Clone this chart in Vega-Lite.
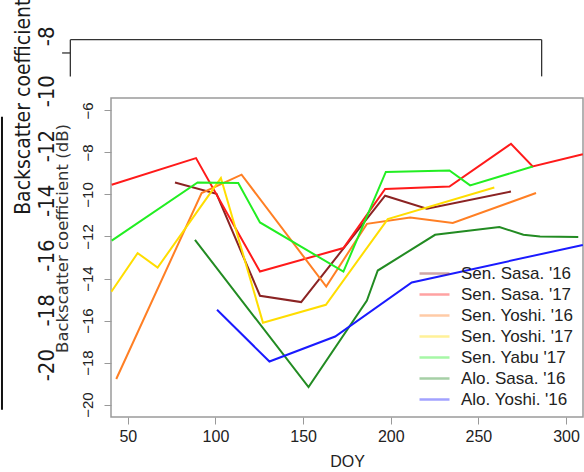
{
  "$schema": "https://vega.github.io/schema/vega-lite/v6.json",
  "width": 472,
  "height": 319,
  "autosize": {"type": "none"},
  "padding": {"left": 111, "top": 98, "right": 1, "bottom": 55},
  "background": "white",
  "config": {
    "view": {"stroke": "#9a9a9a", "strokeWidth": 1.5},
    "font": "Liberation Sans"
  },
  "resolve": {"scale": {"y": "independent"}},
  "layer": [
    {
      "data": {"values": [
        {"s": "Sen. Sasa. '16", "doy": 76.9, "v": -9.43},
        {"s": "Sen. Sasa. '16", "doy": 100.6, "v": -9.97},
        {"s": "Sen. Sasa. '16", "doy": 125.4, "v": -14.82},
        {"s": "Sen. Sasa. '16", "doy": 148.9, "v": -15.12},
        {"s": "Sen. Sasa. '16", "doy": 196.8, "v": -10.06},
        {"s": "Sen. Sasa. '16", "doy": 220.6, "v": -10.68},
        {"s": "Sen. Sasa. '16", "doy": 268.6, "v": -9.86},
        {"s": "Sen. Sasa. '17", "doy": 40.8, "v": -9.54},
        {"s": "Sen. Sasa. '17", "doy": 88.9, "v": -8.27},
        {"s": "Sen. Sasa. '17", "doy": 125.4, "v": -13.67},
        {"s": "Sen. Sasa. '17", "doy": 173.0, "v": -12.55},
        {"s": "Sen. Sasa. '17", "doy": 196.8, "v": -9.74},
        {"s": "Sen. Sasa. '17", "doy": 233.5, "v": -9.62},
        {"s": "Sen. Sasa. '17", "doy": 268.6, "v": -7.59},
        {"s": "Sen. Sasa. '17", "doy": 281.0, "v": -8.67},
        {"s": "Sen. Sasa. '17", "doy": 309.6, "v": -8.09},
        {"s": "Sen. Yoshi. '16", "doy": 43.4, "v": -18.78},
        {"s": "Sen. Yoshi. '16", "doy": 92.1, "v": -9.93},
        {"s": "Sen. Yoshi. '16", "doy": 114.9, "v": -9.06},
        {"s": "Sen. Yoshi. '16", "doy": 163.2, "v": -14.38},
        {"s": "Sen. Yoshi. '16", "doy": 186.4, "v": -11.4},
        {"s": "Sen. Yoshi. '16", "doy": 211.1, "v": -11.1},
        {"s": "Sen. Yoshi. '16", "doy": 235.4, "v": -11.36},
        {"s": "Sen. Yoshi. '16", "doy": 282.9, "v": -9.93},
        {"s": "Sen. Yoshi. '17", "doy": 40.6, "v": -14.63},
        {"s": "Sen. Yoshi. '17", "doy": 55.6, "v": -12.79},
        {"s": "Sen. Yoshi. '17", "doy": 67.0, "v": -13.48},
        {"s": "Sen. Yoshi. '17", "doy": 103.1, "v": -9.22},
        {"s": "Sen. Yoshi. '17", "doy": 127.1, "v": -16.1},
        {"s": "Sen. Yoshi. '17", "doy": 163.0, "v": -15.25},
        {"s": "Sen. Yoshi. '17", "doy": 198.3, "v": -11.17},
        {"s": "Sen. Yoshi. '17", "doy": 259.1, "v": -9.67},
        {"s": "Sen. Yabu '17", "doy": 40.8, "v": -12.2},
        {"s": "Sen. Yabu '17", "doy": 89.8, "v": -9.43},
        {"s": "Sen. Yabu '17", "doy": 113.0, "v": -9.46},
        {"s": "Sen. Yabu '17", "doy": 125.4, "v": -11.33},
        {"s": "Sen. Yabu '17", "doy": 173.0, "v": -13.67},
        {"s": "Sen. Yabu '17", "doy": 197.2, "v": -8.93},
        {"s": "Sen. Yabu '17", "doy": 233.5, "v": -8.86},
        {"s": "Sen. Yabu '17", "doy": 245.3, "v": -9.57},
        {"s": "Sen. Yabu '17", "doy": 281.0, "v": -8.67},
        {"s": "Alo. Sasa. '16", "doy": 88.3, "v": -12.16},
        {"s": "Alo. Sasa. '16", "doy": 153.1, "v": -19.17},
        {"s": "Alo. Sasa. '16", "doy": 186.4, "v": -15.05},
        {"s": "Alo. Sasa. '16", "doy": 192.6, "v": -13.62},
        {"s": "Alo. Sasa. '16", "doy": 225.3, "v": -11.92},
        {"s": "Alo. Sasa. '16", "doy": 262.0, "v": -11.55},
        {"s": "Alo. Sasa. '16", "doy": 275.7, "v": -11.92},
        {"s": "Alo. Sasa. '16", "doy": 285.2, "v": -12.0},
        {"s": "Alo. Sasa. '16", "doy": 307.0, "v": -12.03},
        {"s": "Alo. Yoshi. '16", "doy": 100.9, "v": -15.49},
        {"s": "Alo. Yoshi. '16", "doy": 130.8, "v": -17.95},
        {"s": "Alo. Yoshi. '16", "doy": 168.3, "v": -16.76},
        {"s": "Alo. Yoshi. '16", "doy": 212.0, "v": -14.19},
        {"s": "Alo. Yoshi. '16", "doy": 309.6, "v": -12.4}
      ]},
      "mark": {"type": "line", "strokeWidth": 2, "clip": true},
      "encoding": {
        "x": {
          "field": "doy", "type": "quantitative",
          "scale": {"domain": [40.4, 309.7], "nice": false, "zero": false},
          "axis": {
            "values": [50, 100, 150, 200, 250, 300], "title": "DOY", "grid": false, "domain": false,
            "tickSize": 7, "tickColor": "#999999", "labelFontSize": 16, "labelColor": "#222222",
            "labelPadding": 4, "titleFontSize": 16, "titleFontWeight": "normal", "titleColor": "#222222",
            "titlePadding": 9, "labelFont": "Liberation Sans", "titleFont": "Liberation Sans"
          }
        },
        "y": {
          "field": "v", "type": "quantitative",
          "scale": {"domain": [-20.59, -5.41], "nice": false, "zero": false},
          "axis": {
            "values": [-20, -18, -16, -14, -12, -10, -8, -6], "title": "Backscatter coefficient (dB)",
            "grid": false, "domain": false, "tickSize": 7, "tickColor": "#999999",
            "labelAngle": -90, "labelAlign": "center", "labelBaseline": "bottom", "labelPadding": 9,
            "labelFontSize": 15, "labelColor": "#222222", "labelFont": "Liberation Sans",
            "titleX": -49, "titleY": 140, "titleAngle": -90, "titleAlign": "center", "titleBaseline": "middle",
            "titleFont": "DejaVu Sans", "titleFontSize": 16.5, "titleFontWeight": "normal", "titleColor": "#333333"
          }
        },
        "color": {
          "field": "s", "type": "nominal",
          "scale": {
            "domain": ["Sen. Sasa. '16", "Sen. Sasa. '17", "Sen. Yoshi. '16", "Sen. Yoshi. '17", "Sen. Yabu '17", "Alo. Sasa. '16", "Alo. Yoshi. '16"],
            "range": ["#8B2323", "#FF1A1A", "#FF7F24", "#FFDD00", "#22EE22", "#228B22", "#1A1AFF"]
          },
          "legend": {
            "orient": "bottom-right", "title": null, "offset": 9, "padding": 0,
            "labelFontSize": 17, "labelColor": "#222222", "labelFont": "Liberation Sans",
            "symbolType": "M-1.5,0L1.5,0", "symbolStrokeWidth": 2.5, "symbolOpacity": 0.4, "symbolSize": 400,
            "labelOffset": 15, "rowPadding": 1
          }
        }
      }
    },
    {
      "data": {"values": [
        {"lab": "-8", "v": -8}, {"lab": "-10", "v": -10}, {"lab": "-12", "v": -12},
        {"lab": "-14", "v": -14}, {"lab": "-16", "v": -16}, {"lab": "-18", "v": -18}, {"lab": "-20", "v": -20}
      ]},
      "mark": {"type": "text", "angle": 270, "align": "center", "baseline": "middle", "font": "Liberation Sans Narrow, DejaVu Sans Condensed, Liberation Sans", "fontSize": 22, "color": "#1a1a1a"},
      "encoding": {
        "x": {"datum": 4.1, "type": "quantitative", "scale": {"domain": [40.4, 309.7], "nice": false, "zero": false}},
        "y": {"field": "v", "type": "quantitative", "scale": {"domain": [-21.891, -10.248], "nice": false, "zero": false}, "axis": null},
        "text": {"field": "lab", "type": "nominal"}
      }
    },
    {
      "data": {"values": [{"t": "Backscatter coefficient"}]},
      "mark": {"type": "text", "angle": 270, "align": "center", "baseline": "middle", "font": "Liberation Sans Narrow, DejaVu Sans Condensed, Liberation Sans", "fontSize": 21, "color": "#1a1a1a"},
      "encoding": {
        "x": {"datum": -9.0, "type": "quantitative", "scale": {"domain": [40.4, 309.7], "nice": false, "zero": false}},
        "y": {"datum": -5.824, "type": "quantitative", "scale": {"domain": [-20.59, -5.41], "nice": false, "zero": false}, "axis": null},
        "text": {"field": "t", "type": "nominal"}
      }
    },
    {
      "data": {"values": [{"k": 1}]},
      "mark": {"type": "rule", "color": "#333333", "strokeWidth": 1.3},
      "encoding": {
        "x": {"datum": 17.2, "type": "quantitative", "scale": {"domain": [40.4, 309.7], "nice": false, "zero": false}},
        "x2": {"datum": 286.1},
        "y": {"datum": -2.633, "type": "quantitative", "scale": {"domain": [-20.59, -5.41], "nice": false, "zero": false}, "axis": null}
      }
    },
    {
      "data": {"values": [{"k": 1}]},
      "mark": {"type": "rule", "color": "#333333", "strokeWidth": 1.3},
      "encoding": {
        "x": {"datum": 17.2, "type": "quantitative", "scale": {"domain": [40.4, 309.7], "nice": false, "zero": false}},
        "y": {"datum": -2.633, "type": "quantitative", "scale": {"domain": [-20.59, -5.41], "nice": false, "zero": false}, "axis": null},
        "y2": {"datum": -4.381}
      }
    },
    {
      "data": {"values": [{"k": 1}]},
      "mark": {"type": "rule", "color": "#333333", "strokeWidth": 1.3},
      "encoding": {
        "x": {"datum": 286.1, "type": "quantitative", "scale": {"domain": [40.4, 309.7], "nice": false, "zero": false}},
        "y": {"datum": -2.633, "type": "quantitative", "scale": {"domain": [-20.59, -5.41], "nice": false, "zero": false}, "axis": null},
        "y2": {"datum": -4.381}
      }
    },
    {
      "data": {"values": [{"k": 1}]},
      "mark": {"type": "rule", "color": "#333333", "strokeWidth": 1.3},
      "encoding": {
        "x": {"datum": 12.5, "type": "quantitative", "scale": {"domain": [40.4, 309.7], "nice": false, "zero": false}},
        "x2": {"datum": 17.2},
        "y": {"datum": -3.267, "type": "quantitative", "scale": {"domain": [-20.59, -5.41], "nice": false, "zero": false}, "axis": null}
      }
    },
    {
      "data": {"values": [{"k": 1}]},
      "mark": {"type": "rule", "color": "#111111", "strokeWidth": 2},
      "encoding": {
        "x": {"datum": -21.8, "type": "quantitative", "scale": {"domain": [40.4, 309.7], "nice": false, "zero": false}},
        "y": {"datum": -6.3, "type": "quantitative", "scale": {"domain": [-20.59, -5.41], "nice": false, "zero": false}, "axis": null},
        "y2": {"datum": -20.25}
      }
    }
  ]
}
